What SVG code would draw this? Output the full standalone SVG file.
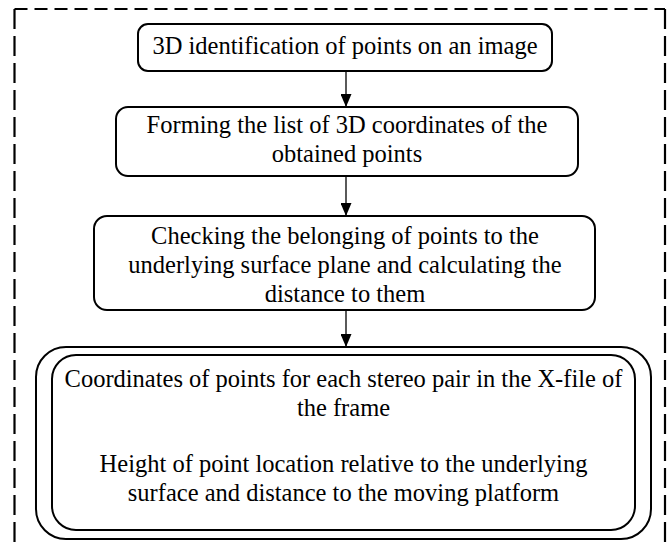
<svg xmlns="http://www.w3.org/2000/svg" width="669" height="547" viewBox="0 0 669 547" font-family="'Liberation Serif', serif">
<style>
.bx{fill:#fff;stroke:#000;stroke-width:2}
.t{font-family:'Liberation Serif', 'DejaVu Serif', serif;font-size:24.5px;fill:#000;text-anchor:middle}
.c{stroke:#000;stroke-width:1.3;fill:none}
.d{stroke:#000;stroke-width:2.2;fill:none}
</style>
<defs>
<marker id="ah" viewBox="0 0 13 11" refX="13" refY="5.5" markerWidth="13" markerHeight="11" markerUnits="userSpaceOnUse" orient="auto">
<path d="M0,0 L13,5.5 L0,11 Z" fill="#000"/>
</marker>
</defs>
<g id="frame">
<line class="d" x1="14.5" y1="9" x2="665" y2="9" stroke-dasharray="13 7"/>
<line class="d" x1="14.5" y1="9" x2="14.5" y2="547" stroke-dasharray="20 7"/>
<line class="d" x1="665" y1="9" x2="665" y2="547" stroke-dasharray="20 7"/>
</g>
<g id="n1">
<rect class="bx" x="138" y="24" width="414" height="47" rx="10"/>
<text class="t" x="345" y="54">3D identification of points on an image</text>
</g>
<g id="n2">
<rect class="bx" x="116" y="107" width="462" height="69" rx="12"/>
<text class="t" x="347" y="133">Forming the list of 3D coordinates of the</text>
<text class="t" x="347" y="162">obtained points</text>
</g>
<g id="n3">
<rect class="bx" x="94" y="216" width="501" height="94" rx="13"/>
<text class="t" x="345" y="244">Checking the belonging of points to the</text>
<text class="t" x="345" y="273">underlying surface plane and calculating the</text>
<text class="t" x="345" y="302">distance to them</text>
</g>
<g id="n4">
<rect class="bx" x="36" y="347" width="615" height="192" rx="30"/>
<rect class="bx" x="52" y="355" width="583" height="175" rx="24"/>
<text class="t" x="343.5" y="387">Coordinates of points for each stereo pair in the X-file of</text>
<text class="t" x="343.5" y="416">the frame</text>
<text class="t" x="343.5" y="472">Height of point location relative to the underlying</text>
<text class="t" x="343.5" y="501">surface and distance to the moving platform</text>
</g>
<g id="connectors">
<line class="c" x1="346" y1="71" x2="346" y2="107" marker-end="url(#ah)"/>
<line class="c" x1="346" y1="176" x2="346" y2="216" marker-end="url(#ah)"/>
<line class="c" x1="346" y1="310" x2="346" y2="347" marker-end="url(#ah)"/>
</g>
</svg>
